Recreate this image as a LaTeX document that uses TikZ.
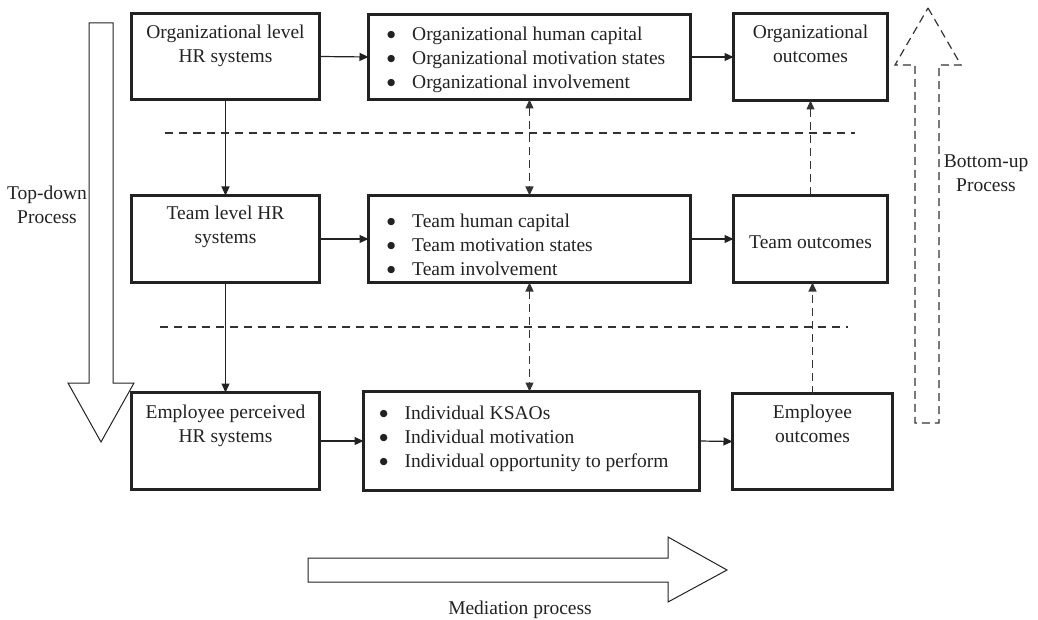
\documentclass[tikz,border=0pt]{standalone}
\usepackage{fontspec}
\setmainfont{Liberation Serif}
\newfontfamily\symfont{DejaVu Sans}
\usetikzlibrary{arrows.meta}
\definecolor{ink}{HTML}{222222}
\definecolor{dash}{HTML}{333333}
\newcommand{\bigbul}{\makebox[24.5pt][l]{\kern-0.5pt\raisebox{3pt}{\symfont\fontsize{9.5}{10}\selectfont ●}}}
\begin{document}
\begin{tikzpicture}[x=1pt,y=-1pt,
  box/.style={draw=ink, line width=3pt, inner sep=0pt, outer sep=0pt},
  txt/.style={text=ink, inner sep=0pt, font=\fontsize{19.5}{24}\selectfont},
  conn/.style={draw=ink, line width=1.2pt, -{Triangle[length=9pt,width=8pt]}},
  dconn/.style={draw=dash, line width=1.2pt, dash pattern=on 8pt off 5pt, -{Triangle[length=9pt,width=8pt]}},
  ddconn/.style={draw=dash, line width=1.2pt, dash pattern=on 8pt off 5pt, {Triangle[length=9pt,width=8pt]}-{Triangle[length=9pt,width=8pt]}},
  sep/.style={draw=dash, line width=1.2pt, dash pattern=on 8pt off 6pt},
  blockarrow/.style={draw=ink, line width=1pt, line join=miter},
  bul/.style={txt, align=left, anchor=west}
]
\useasboundingbox (0,0) rectangle (1038,620);

% boxes
\node[box, minimum width=188pt, minimum height=86pt] (ohr)  at (225.5,56.5) {};
\node[box, minimum width=322pt, minimum height=85pt] (omid) at (529.5,57) {};
\node[box, minimum width=154pt, minimum height=87pt] (oout) at (810.5,57) {};
\node[box, minimum width=188pt, minimum height=87pt] (thr)  at (225.5,239) {};
\node[box, minimum width=322pt, minimum height=87pt] (tmid) at (529.5,239) {};
\node[box, minimum width=154pt, minimum height=87pt] (tout) at (810.5,239) {};
\node[box, minimum width=188pt, minimum height=97pt] (ehr)  at (225.5,441) {};
\node[box, minimum width=336pt, minimum height=99pt] (emid) at (531.5,441) {};
\node[box, minimum width=160pt, minimum height=96pt] (eout) at (812.5,441.5) {};

% box texts
\node[txt, align=center, anchor=north] (ohrt) at (225.5,25) {Organizational level\\HR systems};
\node[txt, align=center, anchor=north] (ooutt) at (810.5,25) {Organizational\\outcomes};
\node[txt, align=center, anchor=north] (thrt) at (225.5,206) {Team level HR\\systems};
\node[txt, align=center] (toutt) at (810.5,242) {Team outcomes};
\node[txt, align=center, anchor=north] (ehrt) at (225.5,405) {Employee perceived\\HR systems};
\node[txt, align=center, anchor=north] (eoutt) at (812.5,405) {Employee\\outcomes};

\node[bul] (omidt) at (387.5,59.5) {\bigbul Organizational human capital\\\bigbul Organizational motivation states\\\bigbul Organizational involvement};
\node[bul] (tmidt) at (387.5,245) {\bigbul Team human capital\\\bigbul Team motivation states\\\bigbul Team involvement};
\node[bul] (emidt) at (380,439) {\bigbul Individual KSAOs\\\bigbul Individual motivation\\\bigbul Individual opportunity to perform};

% solid connectors
\draw[conn] (ohr.east) -- (omid.west);
\draw[conn] (omid.east) -- (oout.west);
\draw[conn] (thr.east) -- (tmid.west);
\draw[conn] (tmid.east) -- (tout.west);
\draw[conn] (ehr.east) -- (emid.west);
\draw[conn] (emid.east) -- (eout.west);
\draw[conn] (ohr.south) -- (thr.north);
\draw[conn] (thr.south) -- (ehr.north);

% dashed connectors
\draw[ddconn] (omid.south) -- (tmid.north);
\draw[ddconn] (tmid.south) -- (tmid.south |- emid.north);
\draw[dconn] (tout.north) -- (oout.south);
\draw[dconn] (eout.north) -- (eout.north |- tout.south);

% level separators
\draw[sep] (165,133) -- (855,133);
\draw[sep] (160,327) -- (848,327);

% block arrows
\draw[blockarrow] (89,23) -- (113,23) -- (113,383) -- (134,383) -- (101,442) -- (68,383) -- (89,383) -- cycle;
\draw[blockarrow, draw=dash, line width=1.2pt, dash pattern=on 8pt off 5pt] (928,8) -- (961,65) -- (939,65) -- (939,423) -- (915,423) -- (915,65) -- (895,65) -- cycle;
\draw[blockarrow] (308,558) -- (668,558) -- (668,537) -- (727,570) -- (668,602) -- (668,582) -- (308,582) -- cycle;

% process labels
\node[txt, align=center] (tdl) at (47,205) {Top-down\\Process};
\node[txt, align=center] (bul) at (986,173) {Bottom-up\\Process};
\node[txt] (medl) at (520,610) {Mediation process};
\end{tikzpicture}
\end{document}
